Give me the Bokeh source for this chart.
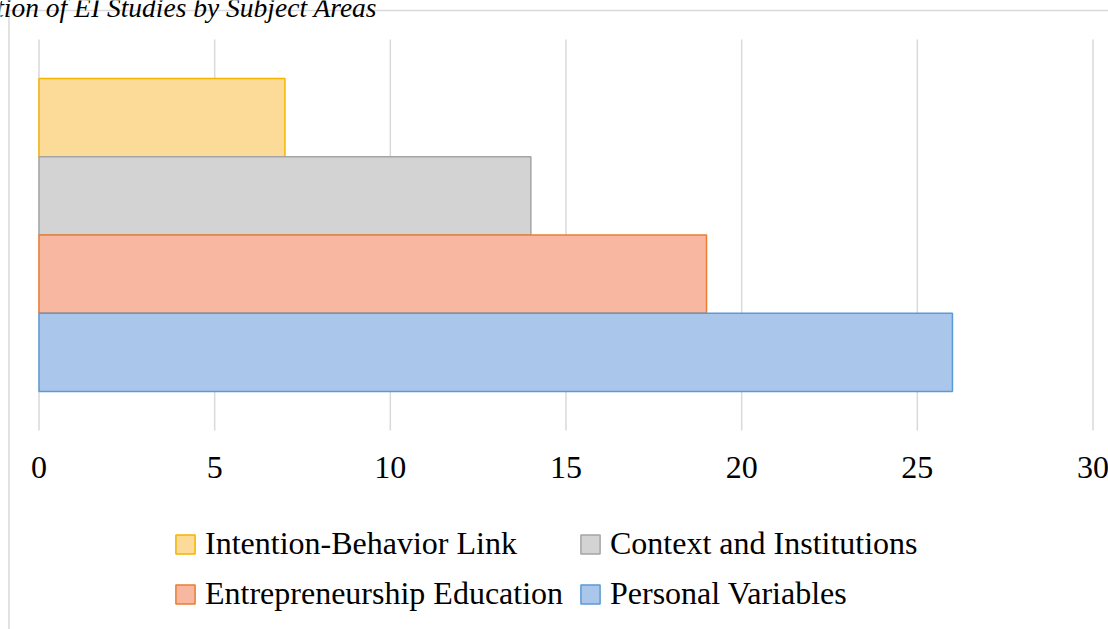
from bokeh.plotting import figure
from bokeh.models import ColumnDataSource, Range1d, Label
from bokeh.embed import file_html
from bokeh.resources import INLINE

# Studies per subject area (top to bottom as drawn)
categories = ["Intention-Behavior Link", "Context and Institutions",
              "Entrepreneurship Education", "Personal Variables"]
studies = [7, 14, 19, 26]
fill_colors = ["#FCDA98", "#D3D3D3", "#F7B7A0", "#AAC6EA"]
line_colors = ["#F4B400", "#A5A5A5", "#ED7D31", "#5B9BD5"]
x_ticks = [0, 5, 10, 15, 20, 25, 30]
x_tick_labels = ["0", "5", "10", "15", "20", "25", "30"]
title_text = "Distribution of EI Studies by Subject Areas"

n = len(categories)
source = ColumnDataSource(dict(
    category=categories,
    studies=studies,
    pos=[n - i for i in range(n)],
    fill=fill_colors,
    line=line_colors,
))

SERIF = "Liberation Serif"

# pixel geometry: the plotting frame fills the whole canvas
W, H = 1108, 629
X0_PX, X30_PX = 38.5, 1092.5
PX_X = (X30_PX - X0_PX) / 30.0
TOP_PX, BOTTOM_PX = 39, 430
PX_Y = (BOTTOM_PX - TOP_PX) / 5.0

def dx(sx):
    return (sx - X0_PX) / PX_X

def dy(sy):
    return (BOTTOM_PX - sy) / PX_Y

p = figure(width=W, height=H, output_backend="svg", toolbar_location=None,
           x_range=Range1d(dx(0), dx(W)), y_range=Range1d(dy(H), dy(0)),
           x_axis_location=None, y_axis_location=None,
           min_border=0, outline_line_color=None,
           background_fill_color="white", border_fill_color="white")
p.grid.visible = False

# chart-area border (left and top edges)
p.line(x=[dx(8.5), dx(8.5), dx(W + 20)], y=[dy(H + 20), dy(10), dy(10)],
       line_color="#D9D9D9", line_width=1.5)

# vertical grid lines at the tick positions, spanning the category band
p.segment(x0=x_ticks, x1=x_ticks, y0=0, y1=5,
          line_color="#D9D9D9", line_width=1.5)

bars = p.hbar(y="pos", left=0, right="studies", height=1, source=source,
              fill_color="fill", line_color="line", line_width=1.5,
              legend_field="category")

# tick labels of the value axis
p.text(x=x_ticks, y=dy(456), text=x_tick_labels,
       text_font=SERIF, text_font_size="32px", text_color="black",
       text_align="center", text_baseline="top")

# legend under the axis, two columns
legend = p.legend[0]
legend.orientation = "horizontal"
legend.ncols = 2
legend.location = (173, 17)
legend.glyph_width = 24
legend.glyph_height = 24
legend.label_standoff = 8
legend.label_width = 360
legend.label_text_font = SERIF
legend.label_text_font_size = "32px"
legend.label_text_color = "black"
legend.spacing = 13
legend.border_line_color = None
legend.background_fill_alpha = 0
legend.padding = 0
legend.margin = 0

title = Label(x=dx(-96), y=dy(7), text=title_text,
              text_font=SERIF, text_font_style="italic",
              text_font_size="27.5px", text_color="black",
              text_baseline="alphabetic", text_align="left")
p.add_layout(title)

open("out.html", "w").write(file_html(p, INLINE))
